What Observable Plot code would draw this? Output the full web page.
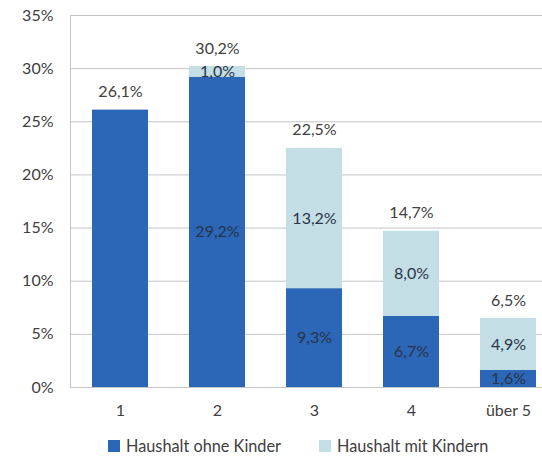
<!DOCTYPE html>
<html>
<head>
<meta charset="utf-8">
<script src="https://cdn.jsdelivr.net/npm/d3@7"></script>
<script src="https://cdn.jsdelivr.net/npm/@observablehq/plot@0.6"></script>
<style>
  body { margin: 0; background: #fff; font-family: Lato, "Noto Sans", sans-serif; }
  #chart { width: 542px; }
  .legend { display: flex; justify-content: flex-start; font-size: 16.3px; color: #404040; margin-top: 16px; padding-left: 108px; }
  .legend .item { display: flex; align-items: center; }
  .legend .item + .item { margin-left: 38px; }
  .legend span.sw { display: inline-block; width: 12px; height: 12px; margin-right: 6px; }
</style>
</head>
<body>
<div id="chart"></div>
<script>
const categories = ["1", "2", "3", "4", "über 5"];
const ohneKinder = [26.1, 29.2, 9.3, 6.7, 1.6];
const mitKindern = [0, 1.0, 13.2, 8.0, 4.9];
const totals = [26.1, 30.2, 22.5, 14.7, 6.5];
const seriesNames = ["Haushalt ohne Kinder", "Haushalt mit Kindern"];
const colors = ["#2B66B7", "#C3DFE5"];
const yTicks = [0, 5, 10, 15, 20, 25, 30, 35];

const fmt = v => v.toFixed(1).replace(".", ",") + "%";

const segs = [];
categories.forEach((c, i) => {
  segs.push({cat: c, series: seriesNames[0], y1: 0, y2: ohneKinder[i], v: ohneKinder[i], label: mitKindern[i] > 0});
  if (mitKindern[i] > 0) segs.push({cat: c, series: seriesNames[1], y1: ohneKinder[i], y2: ohneKinder[i] + mitKindern[i], v: mitKindern[i], label: true});
});
const tots = categories.map((c, i) => ({cat: c, t: totals[i], top: ohneKinder[i] + mitKindern[i]}));

const font = "Lato, 'Noto Sans', sans-serif";
const fs = 16;
const plot = Plot.plot({
  width: 542,
  height: 420,
  marginLeft: 70,
  marginRight: 0,
  marginTop: 15,
  marginBottom: 33,
  style: {fontFamily: font, fontSize: fs + "px", color: "#404040", background: "#fff"},
  x: {domain: categories, range: [70.5, 558], paddingInner: 0.425, paddingOuter: 0.2125, label: null},
  y: {domain: [0, 35], label: null},
  color: {domain: seriesNames, range: colors},
  marks: [
    Plot.gridY(yTicks, {stroke: "#c4c4c4", strokeOpacity: 1}),
    Plot.frame({anchor: "left", stroke: "#c4c4c4"}),
    Plot.barY(segs, {x: "cat", y1: "y1", y2: "y2", fill: "series"}),
    Plot.text(segs.filter(d => d.label), {x: "cat", y: d => (d.y1 + d.y2) / 2, text: d => fmt(d.v), fill: "#2a3448", fontSize: fs}),
    Plot.text(tots, {x: "cat", y: "top", text: d => fmt(d.t), dy: -18, fill: "#404040", fontSize: fs}),
    Plot.axisY(yTicks, {tickSize: 0, tickPadding: 17, tickFormat: d => d + "%", fontSize: fs, label: null}),
    Plot.axisX({tickSize: 0, tickPadding: 17, fontSize: fs, label: null})
  ]
});
document.getElementById("chart").appendChild(plot);

const legend = document.createElement("div");
legend.className = "legend";
seriesNames.forEach((n, i) => {
  const item = document.createElement("div");
  item.className = "item";
  const sw = document.createElement("span");
  sw.className = "sw";
  sw.style.background = colors[i];
  item.appendChild(sw);
  item.appendChild(document.createTextNode(n));
  legend.appendChild(item);
});
document.getElementById("chart").appendChild(legend);
</script>
</body>
</html>
